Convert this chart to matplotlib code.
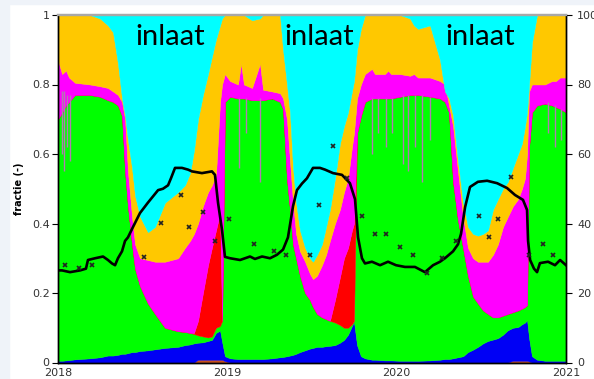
import numpy as np
import matplotlib
matplotlib.use("Agg")
import matplotlib.pyplot as plt
from matplotlib.patches import Rectangle

FONTSIZE = 8

# time axis in decimal years
t = [2018.000, 2018.024, 2018.047, 2018.065, 2018.100, 2018.189, 2018.248, 2018.295,
     2018.325, 2018.354, 2018.378, 2018.396, 2018.413, 2018.437, 2018.455, 2018.484,
     2018.531, 2018.573, 2018.632, 2018.709, 2018.750, 2018.780, 2018.803, 2018.827,
     2018.856, 2018.886, 2018.909, 2018.933, 2018.957, 2018.969, 2018.986,
     2019.016, 2019.063, 2019.081, 2019.098, 2019.146, 2019.193, 2019.211, 2019.264,
     2019.311, 2019.329, 2019.352, 2019.370, 2019.388, 2019.406, 2019.429, 2019.459,
     2019.488, 2019.506, 2019.530, 2019.559, 2019.583, 2019.606, 2019.636, 2019.665,
     2019.689, 2019.713, 2019.736, 2019.748, 2019.766, 2019.789, 2019.813, 2019.854,
     2019.872, 2019.931, 2019.949, 2019.967,
     2020.020, 2020.079, 2020.102, 2020.126, 2020.197, 2020.256, 2020.285, 2020.309,
     2020.333, 2020.362, 2020.392, 2020.421, 2020.451, 2020.480, 2020.510, 2020.539,
     2020.569, 2020.598, 2020.628, 2020.657, 2020.687, 2020.717, 2020.740, 2020.758,
     2020.770, 2020.782, 2020.799, 2020.829, 2020.876, 2020.917, 2020.941, 2020.965,
     2021.000]

# cumulative tops of the stacked fractions (bottom to top)
top_brown = [0, 0, 0, 0, 0, 0, 0, 0, 0, 0, 0, 0, 0, 0, 0, 0,
             0, 0, 0, 0, 0, 0, 0, .008, .008, .008, .008, .008, .008, .008, .004,
             0, 0, 0, 0, 0, 0, 0, 0, 0, 0, 0, 0, 0, 0, 0, 0,
             0, 0, 0, 0, 0, 0, 0, 0, 0, 0, 0, 0, 0, 0, 0, 0,
             0, 0, 0, 0,
             0, 0, 0, 0, 0, 0, 0, 0, 0, 0, 0, 0, 0, 0, 0, 0,
             0, 0, 0, 0, .005, .005, .005, .005, .005, .003, 0, 0, 0, 0, 0, 0, 0]
top_blue = [.005, .005, .006, .007, .009, .012, .015, .02, .02, .022, .025, .025, .027, .03, .03, .033,
            .035, .038, .042, .045, .05, .052, .055, .057, .058, .062, .065, .085, .092, .06, .018,
            .012, .01, .01, .01, .01, .01, .01, .012, .015, .016, .018, .02, .022, .025, .03, .035,
            .04, .042, .045, .045, .047, .048, .05, .057, .065, .08, .105, .117, .05, .018, .012, .008,
            .008, .006, .006, .006,
            .005, .005, .005, .005, .006, .008, .01, .01, .012, .015, .018, .03, .037, .045, .055, .062,
            .066, .07, .08, .093, .10, .102, .11, .115, .122, .07, .018, .008, .005, .005, .005, .005, .005]
top_green = [.70, .72, .74, .75, .77, .77, .765, .755, .75, .74, .71, .55, .45, .34, .27, .22,
             .17, .14, .10, .09, .088, .085, .082, .078, .075, .072, .075, .10, .105, .12, .75,
             .765, .76, .76, .76, .755, .755, .755, .76, .75, .73, .53, .44, .34, .30, .25, .20,
             .18, .16, .14, .13, .125, .12, .115, .108, .10, .10, .11, .12, .66, .71, .75, .76,
             .76, .76, .76, .76,
             .765, .77, .77, .77, .765, .76, .75, .72, .52, .41, .33, .25, .19, .17, .15, .14,
             .13, .13, .135, .14, .145, .15, .155, .16, .165, .62, .72, .74, .745, .74, .735, .73, .72]
top_red = [.70, .72, .74, .75, .77, .77, .765, .755, .75, .74, .71, .55, .45, .34, .27, .22,
           .17, .14, .10, .09, .088, .085, .085, .12, .20, .28, .33, .38, .43, .12, .75,
           .765, .76, .76, .76, .755, .755, .755, .76, .75, .73, .53, .44, .34, .30, .25, .20,
           .18, .16, .14, .13, .125, .12, .18, .245, .30, .33, .38, .40, .66, .71, .75, .76,
           .76, .76, .76, .76,
           .765, .77, .77, .77, .765, .76, .75, .72, .52, .41, .33, .25, .19, .17, .15, .14,
           .13, .13, .135, .14, .145, .15, .155, .16, .165, .62, .72, .74, .745, .74, .735, .73, .72]
top_magenta = [.87, .83, .84, .82, .805, .80, .795, .79, .78, .77, .75, .70, .55, .42, .34, .30,
               .295, .29, .29, .30, .33, .35, .37, .40, .45, .49, .51, .54, .75, .80, .83,
               .81, .80, .86, .80, .79, .86, .785, .78, .775, .76, .70, .58, .46, .37, .32, .29,
               .255, .24, .25, .28, .31, .35, .40, .44, .49, .53, .62, .66, .76, .80, .83, .845,
               .83, .83, .84, .83,
               .83, .825, .83, .82, .82, .81, .80, .74, .68, .55, .42, .33, .30, .29, .29, .29,
               .31, .34, .39, .42, .45, .47, .50, .53, .60, .78, .80, .80, .80, .81, .81, .82, .82]
top_yellow = [1, 1, 1, 1, 1, 1, .99, .97, .95, .86, .76, .71, .64, .56, .48, .42,
              .375, .39, .46, .49, .51, .545, .61, .70, .77, .83, .88, .93, .97, .99, 1,
              1, 1, 1, 1, .985, .99, 1, 1, 1, .90, .80, .72, .56, .46, .38, .33,
              .30, .29, .31, .34, .39, .44, .53, .63, .68, .72, .78, .81, .90, .96, 1, 1,
              1, 1, 1, 1,
              1, .99, .97, .96, .97, .87, .78, .76, .71, .58, .46, .39, .37, .365, .37, .38,
              .44, .47, .50, .52, .56, .60, .63, .68, .72, .80, .92, 1, 1, 1, 1, 1, 1]

# short dips of the green fraction (thin greyish streaks)
spike_t = [2018.024, 2018.035, 2018.053, 2018.071, 2019.069, 2019.110, 2019.193,
           2019.854, 2019.890, 2019.937, 2019.972, 2020.037, 2020.067, 2020.108,
           2020.150, 2020.197, 2020.894, 2020.935, 2020.971]
spike_low = [0.60, 0.55, 0.62, 0.58, 0.56, 0.66, 0.52,
             0.60, 0.66, 0.62, 0.66, 0.57, 0.55, 0.62,
             0.52, 0.64, 0.66, 0.62, 0.64]
spike_high = [0.78, 0.78, 0.77, 0.77, 0.76, 0.76, 0.76,
              0.76, 0.76, 0.76, 0.76, 0.77, 0.77, 0.77,
              0.77, 0.765, 0.75, 0.74, 0.73]

# black line (right axis)
t_line = [2018.000, 2018.024, 2018.071, 2018.130, 2018.165, 2018.177, 2018.219, 2018.266,
          2018.295, 2018.319, 2018.337, 2018.354, 2018.378, 2018.396, 2018.413, 2018.443,
          2018.484, 2018.531, 2018.591, 2018.620, 2018.650, 2018.667, 2018.691, 2018.732,
          2018.768, 2018.791, 2018.850, 2018.909, 2018.927, 2018.945, 2018.969, 2018.986,
          2019.016, 2019.075, 2019.134, 2019.163, 2019.205, 2019.252, 2019.293, 2019.329,
          2019.358, 2019.388, 2019.411, 2019.441, 2019.470, 2019.506, 2019.547, 2019.577,
          2019.624, 2019.677, 2019.724, 2019.754, 2019.772, 2019.795, 2019.813, 2019.854,
          2019.902, 2019.949, 2019.996, 2020.049, 2020.108, 2020.167, 2020.215, 2020.256,
          2020.285, 2020.333, 2020.362, 2020.380, 2020.404, 2020.433, 2020.480, 2020.534,
          2020.593, 2020.652, 2020.699, 2020.746, 2020.770, 2020.776, 2020.788, 2020.811,
          2020.829, 2020.846, 2020.894, 2020.935, 2020.965, 2021.000]
line_val = [26.5, 26.5, 26, 26.5, 27, 29.5, 30, 30.5, 29.5, 28.5, 28, 30, 32, 35, 36, 39,
            43, 46, 49.6, 50, 51, 53, 56, 56, 55.5, 55, 54.5, 55, 54, 46, 38, 30.4,
            30, 29.5, 30.5, 29.8, 30.5, 30, 31, 32.5, 36, 45, 49.6, 51.5, 53, 56, 56, 55.5,
            54.5, 54, 51.6, 47, 36, 30, 28.5, 29, 28, 29, 28, 27.5, 27.5, 26, 28, 29,
            30, 32, 34, 37, 44.7, 50.5, 52, 52.3, 51.6, 50.2, 48.2, 46.8, 43.9, 35, 29.5, 27,
            26, 28.6, 29, 28, 29.5, 28]

# observations (crosses, right axis)
t_obs = [2018.041, 2018.124, 2018.201, 2018.508, 2018.608, 2018.726, 2018.774, 2018.856,
         2018.927, 2019.010, 2019.157, 2019.276, 2019.346, 2019.488, 2019.541, 2019.624,
         2019.707, 2019.795, 2019.872, 2019.937, 2020.020, 2020.096, 2020.179, 2020.268,
         2020.350, 2020.486, 2020.545, 2020.598, 2020.675, 2020.782, 2020.864, 2020.923]
obs_val = [28.1, 27.2, 28.1, 30.4, 40.1, 48.2, 39.0, 43.3, 35.0, 41.3, 34.1, 32.1, 30.9, 30.9,
           45.3, 62.4, 53.2, 42.2, 37.0, 37.0, 33.2, 30.9, 25.8, 30.1, 35.0, 42.2, 36.1, 41.3,
           53.4, 30.9, 34.1, 30.9]

year_ticks = [2018, 2019, 2020, 2021]
label_pos = [2018.660, 2019.540, 2020.495]

layers = [
    (None, top_brown, '#C8501E'),
    (top_brown, top_blue, '#0000F5'),
    (top_blue, top_green, '#00FF00'),
    (top_green, top_red, '#FF0000'),
    (top_red, top_magenta, '#FF00FF'),
    (top_magenta, top_yellow, '#FFC800'),
    (top_yellow, None, '#00FFFF'),
]

fig = plt.figure(figsize=(5.94, 3.79), dpi=100, facecolor='white')
fig.patches.append(Rectangle((0, 0), 9 / 594, 1, transform=fig.transFigure,
                             color='#EFF3F9', zorder=0))
fig.patches.append(Rectangle((0, 1 - 4 / 379), 1, 4 / 379, transform=fig.transFigure,
                             color='#EFF3F9', zorder=0))

ax = fig.add_axes([58 / 594, 16.5 / 379, 508 / 594, 347.5 / 379])
tt = np.array(t)
for lo, hi, col in layers:
    lo_a = np.zeros(len(t)) if lo is None else np.array(lo)
    hi_a = np.ones(len(t)) if hi is None else np.array(hi)
    ax.fill_between(tt, lo_a, hi_a, facecolor=col, edgecolor=col, linewidth=0.3)
ax.vlines(spike_t, spike_low, spike_high, colors='#B07CB0', linewidth=1.0)

ax.set_xlim(2018, 2021)
ax.set_ylim(0, 1)
ax.set_xticks(year_ticks)
ax.set_xticklabels([str(y) for y in year_ticks])
ax.set_yticks([0, 0.2, 0.4, 0.6, 0.8, 1.0])
ax.set_yticklabels(['0', '0.2', '0.4', '0.6', '0.8', '1'])
ax.tick_params(axis='y', direction='out', length=4, labelsize=FONTSIZE, labelcolor='#333333', pad=2)
ax.tick_params(axis='x', length=0, labelsize=FONTSIZE, labelcolor='#333333', pad=4)
ax.set_ylabel('fractie (-)', fontsize=7, fontweight='bold', labelpad=6)

for x, s in zip(label_pos, ['inlaat'] * 3):
    ax.text(x, 0.937, s, fontsize=21, family=['Lato', 'DejaVu Sans'],
            ha='center', va='center', color='black')

ax2 = ax.twinx()
ax2.plot(t_line, line_val, color='black', linewidth=1.9)
ax2.plot(t_obs, obs_val, linestyle='none', marker='x', markersize=3.5,
         markeredgewidth=1.2, color='#222222')
ax2.set_ylim(0, 100)
ax2.set_yticks([0, 20, 40, 60, 80, 100])
ax2.tick_params(axis='y', direction='out', length=4, labelsize=FONTSIZE, labelcolor='#333333', pad=4)

for a in (ax, ax2):
    a.spines['top'].set_color('#A8A8A8')
    a.spines['top'].set_linewidth(1.6)
    a.spines['left'].set_linewidth(1.0)
    a.spines['right'].set_linewidth(1.0)
    a.spines['bottom'].set_linewidth(1.0)

fig.savefig('out.png', dpi=100, facecolor=fig.get_facecolor())
